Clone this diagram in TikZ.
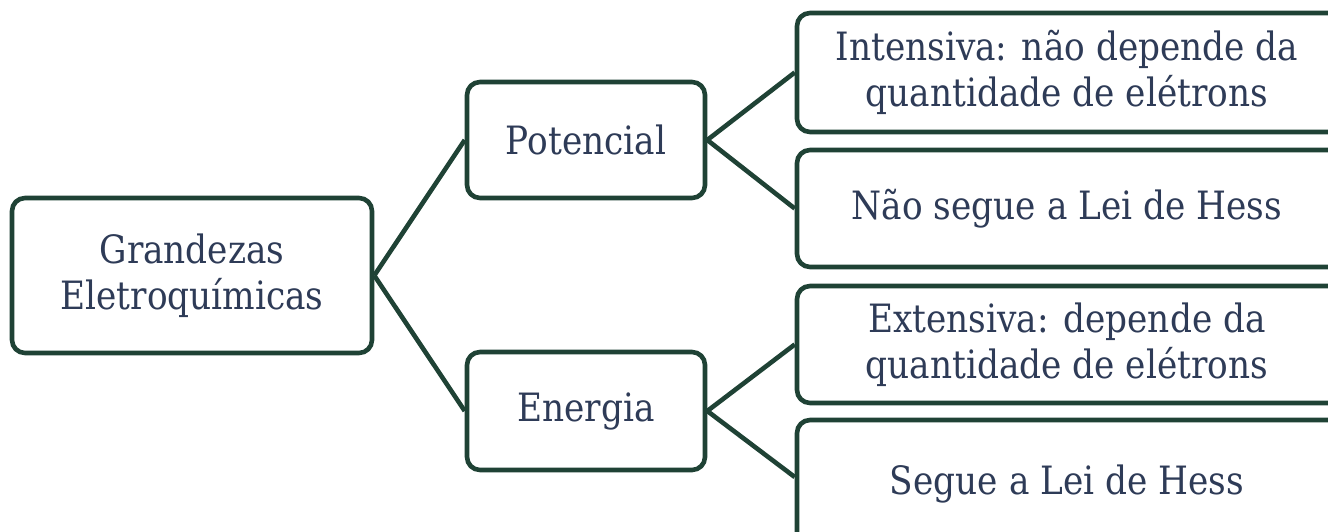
\documentclass[tikz,border=0pt]{standalone}
\usepackage{fontspec}
\setmainfont{DejaVu Serif}[FakeStretch=0.88]
\definecolor{boxline}{HTML}{1F4235}
\definecolor{txt}{HTML}{2E3B57}
\newcommand{\lsh}{\hspace*{-20pt}}
\begin{document}
\begin{tikzpicture}[x=1pt,y=-1pt,
  box/.style={draw=boxline, line width=4.6pt, rounded corners=13pt, fill=white,
    text=txt, align=center, inner sep=0pt, anchor=center,
    font=\fontsize{39}{46}\selectfont},
  link/.style={draw=boxline, line width=4.6pt}]
\useasboundingbox (0,0) rectangle (1328,532);
\node[box, minimum width=360pt, minimum height=155pt] (root) at (192,275.5) {Grandezas\\Eletroquímicas};
\node[box, minimum width=238pt, minimum height=116pt] (pot) at (586,140) {Potencial};
\node[box, minimum width=238pt, minimum height=118pt] (ene) at (586,411) {Energia};
\node[box, minimum width=560pt, minimum height=119pt] (r1) at (1077,72.5) {\lsh Intensiva: não depende da\\\lsh quantidade de elétrons};
\node[box, minimum width=560pt, minimum height=117pt] (r2) at (1077,208.5) {\lsh Não segue a Lei de Hess};
\node[box, minimum width=560pt, minimum height=117pt] (r3) at (1077,344.5) {\lsh Extensiva: depende da\\\lsh quantidade de elétrons};
\node[box, minimum width=560pt, minimum height=128pt] (r4) at (1077,484) {\lsh\raisebox{6pt}{Segue a Lei de Hess}};
\draw[link] (root.east) -- (pot.west);
\draw[link] (root.east) -- (ene.west);
\draw[link] (pot.east) -- (r1.west);
\draw[link] (pot.east) -- (r2.west);
\draw[link] (ene.east) -- (r3.west);
\draw[link] (ene.east) -- ([yshift=7pt]r4.west);
\end{tikzpicture}
\end{document}
